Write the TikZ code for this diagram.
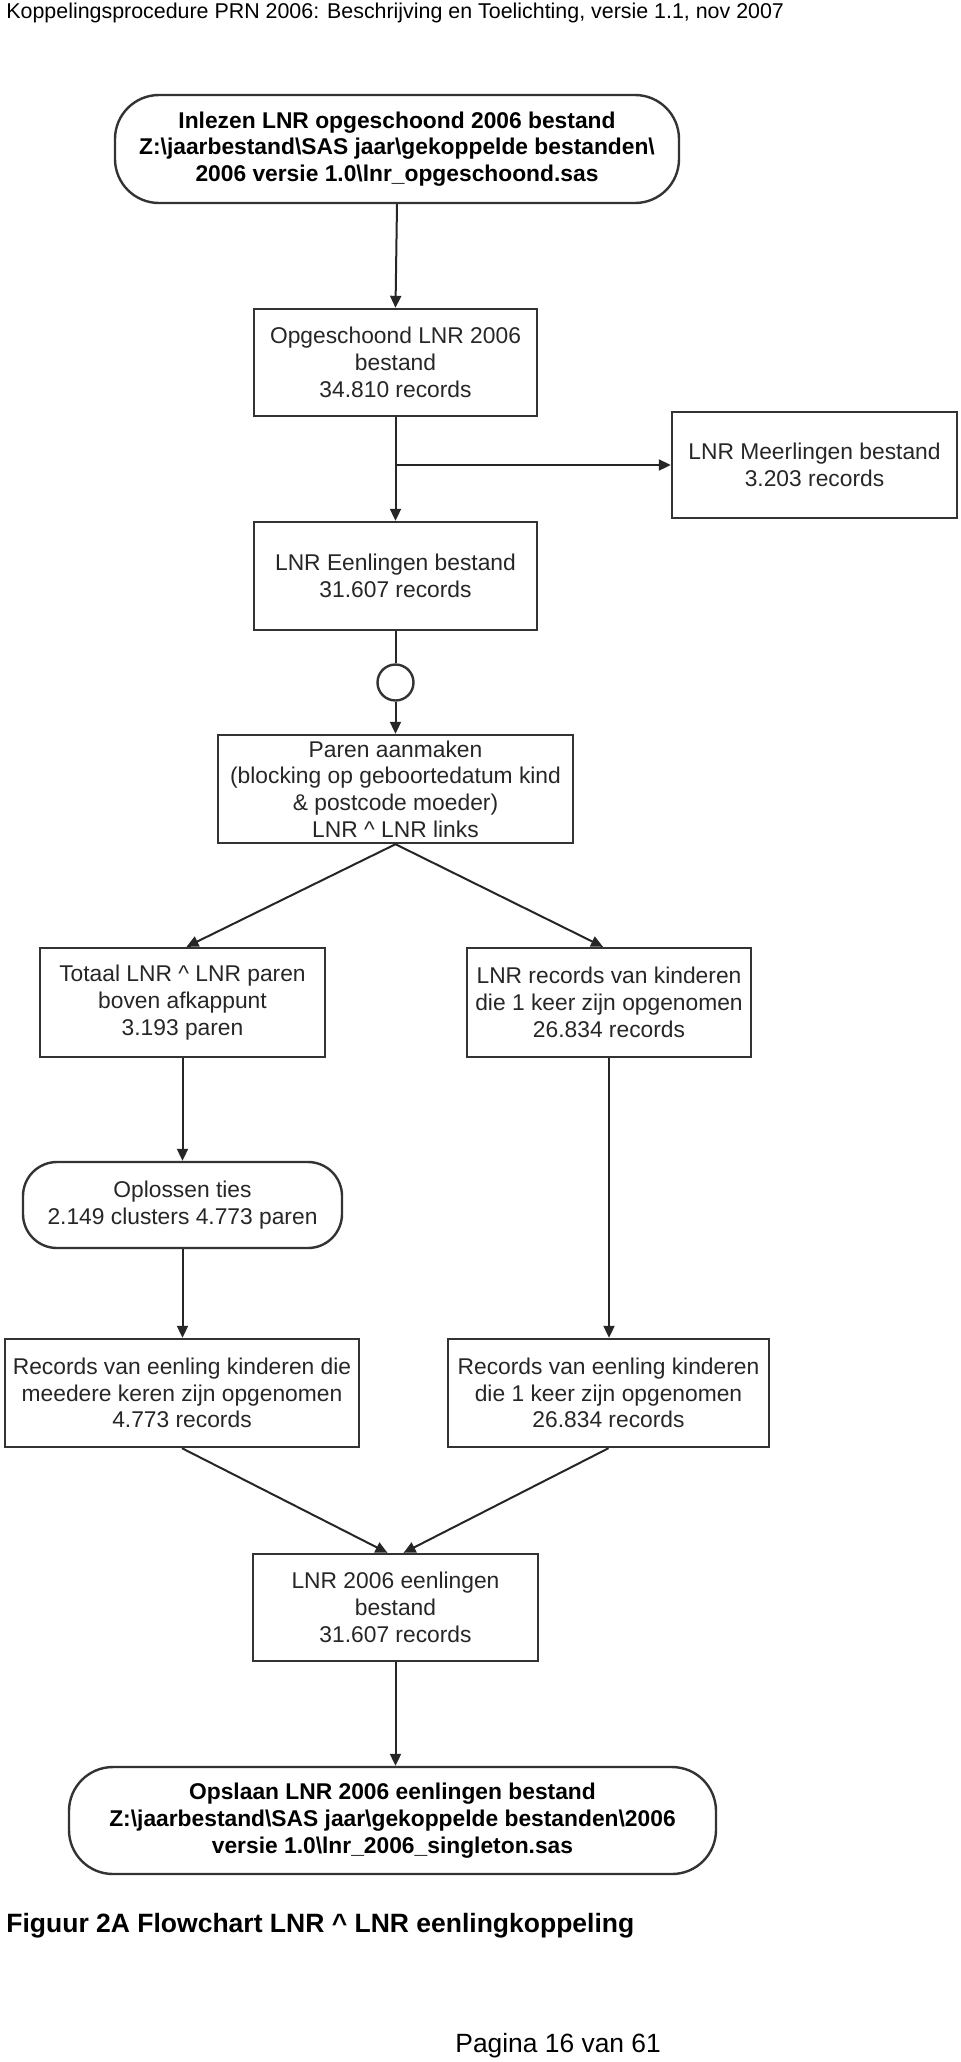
\documentclass[tikz,border=0pt]{standalone}
\usepackage{fontspec}
\setmainfont{Liberation Sans}
\usetikzlibrary{arrows.meta}
\newcommand\boxfont{\fontsize{11.4}{13.35}\selectfont}

\begin{document}
\begin{tikzpicture}[x=0.5pt, y=-0.5pt,
	blok/.style={draw=black!80, line width=1.2pt, align=center, inner sep=0pt, text=black!85, font=\boxfont},
	eind/.style={blok, rounded corners=22pt, text=black, font=\bfseries\boxfont},
	pijl/.style={-{Triangle[length=6pt,width=5.5pt]}, line width=1pt, draw=black!85}]
	\useasboundingbox (0,0) rectangle (960,2062);
	%Kop en onderschrift
	\node[anchor=base west, inner sep=0pt, font=\fontsize{10.7}{12}\selectfont] (kop) at (6,18) {Koppelingsprocedure PRN 2006: Beschrijving en Toelichting, versie 1.1, nov 2007};
	\node[anchor=base west, inner sep=0pt, font=\bfseries\fontsize{13.25}{15}\selectfont] (fig) at (6,1932) {Figuur 2A Flowchart LNR \textasciicircum{} LNR eenlingkoppeling};
	\node[anchor=base west, inner sep=0pt, font=\fontsize{13.2}{15}\selectfont] (pag) at (455,2052) {Pagina 16 van 61};
	%Knopen van het schema
	\node[eind, minimum width=282pt, minimum height=54pt] (Inlezen) at (397,149) {Inlezen LNR opgeschoond 2006 bestand\\Z:\textbackslash jaarbestand\textbackslash SAS jaar\textbackslash gekoppelde bestanden\textbackslash\\2006 versie 1.0\textbackslash lnr\_opgeschoond.sas};
	\node[blok, minimum width=141.5pt, minimum height=53.5pt] (Opgeschoond) at (395.5,362.5) {Opgeschoond LNR 2006\\bestand\\34.810 records};
	\node[blok, minimum width=142.5pt, minimum height=53pt] (Meerlingen) at (814.5,465) {LNR Meerlingen bestand\\3.203 records};
	\node[blok, minimum width=141.5pt, minimum height=54pt] (Eenlingen) at (395.5,576) {LNR Eenlingen bestand\\31.607 records};
	\node[draw=black!80, line width=1.2pt, circle, inner sep=0pt, minimum size=18pt] (Knoop) at (395.5,682.5) {};
	\node[blok, minimum width=177.5pt, minimum height=54pt] (Paren) at (395.5,789) {Paren aanmaken\\(blocking op geboortedatum kind\\\& postcode moeder)\\LNR \textasciicircum{} LNR links};
	\node[blok, minimum width=142.5pt, minimum height=54.5pt] (Totaal) at (182.5,1002.5) {Totaal LNR \textasciicircum{} LNR paren\\boven afkappunt\\3.193 paren};
	\node[blok, minimum width=142pt, minimum height=54.5pt] (Eenmaal) at (609,1002.5) {LNR records van kinderen\\die 1 keer zijn opgenomen\\26.834 records};
	\node[eind, rounded corners=17pt, text=black!85, font=\boxfont, minimum width=159.5pt, minimum height=43pt] (Oplossen) at (182.5,1205) {Oplossen ties\\2.149 clusters 4.773 paren};
	\node[blok, minimum width=177pt, minimum height=54pt] (RecMeer) at (182,1393) {Records van eenling kinderen die\\meedere keren zijn opgenomen\\4.773 records};
	\node[blok, minimum width=160.5pt, minimum height=54pt] (RecEen) at (608.5,1393) {Records van eenling kinderen\\die 1 keer zijn opgenomen\\26.834 records};
	\node[blok, minimum width=142.5pt, minimum height=53.5pt] (Totaal2006) at (395.5,1607.5) {LNR 2006 eenlingen\\bestand\\31.607 records};
	\node[eind, minimum width=323.5pt, minimum height=53.5pt] (Opslaan) at (392.5,1820.5) {Opslaan LNR 2006 eenlingen bestand\\Z:\textbackslash jaarbestand\textbackslash SAS jaar\textbackslash gekoppelde bestanden\textbackslash 2006\\versie 1.0\textbackslash lnr\_2006\_singleton.sas};
	%Pijlen
	\coordinate (Splits) at (Opgeschoond.south |- Meerlingen.west);
	\draw[pijl] (Inlezen.south) -- (Opgeschoond.north);
	\draw[pijl] (Opgeschoond.south) -- (Eenlingen.north);
	\draw[pijl] (Splits) -- (Meerlingen.west);
	\draw[line width=1pt, draw=black!85] (Eenlingen.south) -- (Knoop.north);
	\draw[pijl] (Knoop.south) -- (Paren.north);
	\draw[pijl] (Paren.south) -- ([xshift=2pt]Totaal.north);
	\draw[pijl] (Paren.south) -- ([xshift=-3pt]Eenmaal.north);
	\draw[pijl] (Totaal.south) -- (Oplossen.north);
	\draw[pijl] (Eenmaal.south) -- (RecEen.north -| Eenmaal.south);
	\draw[pijl] (Oplossen.south) -- (RecMeer.north -| Oplossen.south);
	\draw[pijl] (RecMeer.south) -- ([xshift=-4pt]Totaal2006.north);
	\draw[pijl] (RecEen.south) -- ([xshift=4pt]Totaal2006.north);
	\draw[pijl] (Totaal2006.south) -- (Opslaan.north -| Totaal2006.south);
\end{tikzpicture}
\end{document}
